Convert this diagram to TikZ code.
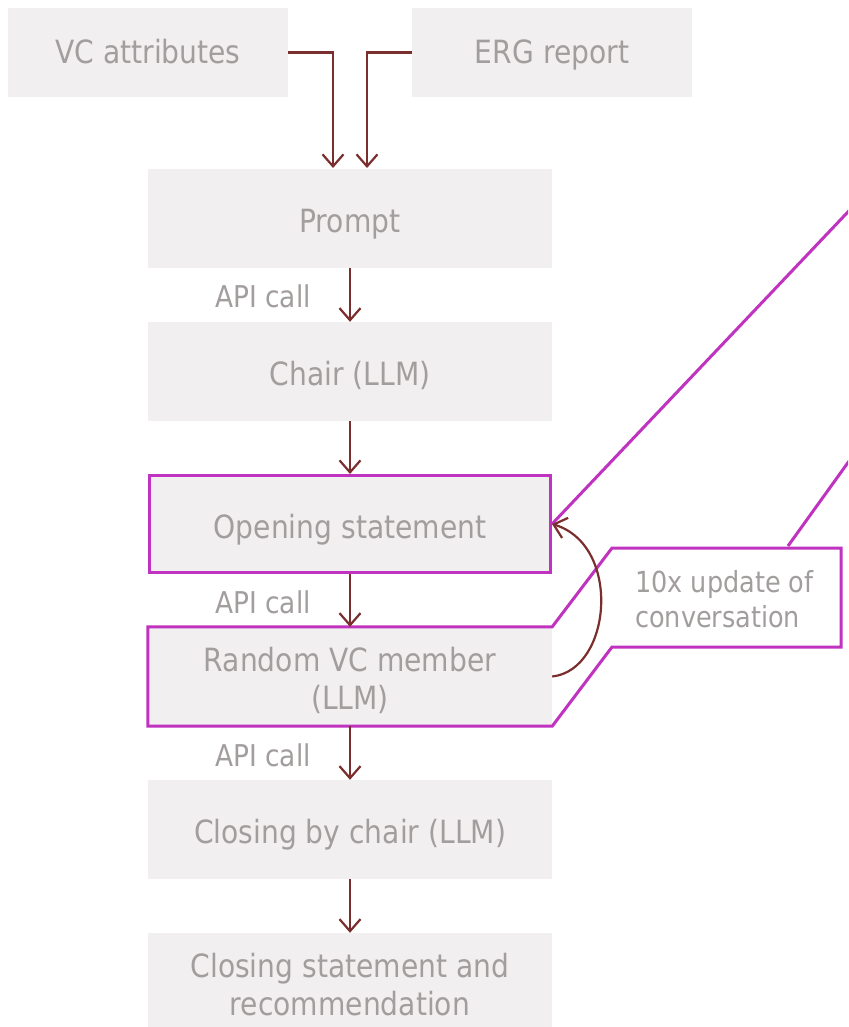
\documentclass[tikz,border=0pt]{standalone}
\usepackage{fontspec}
\setmainfont{DejaVu Sans}[FakeStretch=0.88]
\usetikzlibrary{arrows.meta}
\definecolor{boxfill}{HTML}{F1EFEF}
\definecolor{boxtext}{HTML}{A39E9E}
\definecolor{flow}{HTML}{7A2E2E}
\definecolor{loopline}{HTML}{C032C0}
\begin{document}
\begin{tikzpicture}[x=1pt,y=-1pt,
  panel/.style={fill=boxfill, text=boxtext, minimum width=404pt, minimum height=99pt,
    align=center, font=\fontsize{32}{38}\selectfont, inner sep=0pt},
  stage/.style={panel, text height=28pt, text depth=0pt},
  source/.style={panel, minimum width=280pt, minimum height=89pt, text height=23pt, text depth=0pt},
  boxtextstyle/.style={text=boxtext, align=center, font=\fontsize{32}{38}\selectfont, inner sep=0pt},
  flowarrow/.style={draw=flow, line width=2.2pt,
    -{Straight Barb[length=12pt,width=21pt]}},
  apilabel/.style={text=boxtext, font=\fontsize{30}{36}\selectfont, inner sep=0pt},
  loop/.style={draw=loopline, line width=3pt, line join=miter}]
\useasboundingbox[fill=white] (0,0) rectangle (848,1027);
\clip (0,0) rectangle (848,1027);

% inputs
\node[source] (vc)  at (148,52.5) {VC attributes};
\node[source] (erg) at (552,52.5) {ERG report};

% main pipeline
\node[stage] (prompt) at (350,218.5) {Prompt};
\node[stage] (chair)  at (350,371.5) {Chair (LLM)};
\node[stage, draw=loopline, line width=3pt, minimum width=401pt, minimum height=97pt] (open) at (350,524) {Opening statement};
\node[panel] (rand) at (350,676.5) {};
\node[boxtextstyle] (randtext) at (350,680) {Random VC member\\(LLM)};
\node[stage] (closechair) at (350,829.5) {Closing by chair (LLM)};
\node[panel, minimum height=94pt] (final) at (350,980) {};
\node[boxtextstyle] (finaltext) at (350,985) {Closing statement and\\recommendation};

% loop callout around the member step
\draw[loop] (rand.north west) -- (rand.north east) -- (612,548) -- (841,548)
  -- (841,647) -- (612,647) -- (rand.south east) -- (rand.south west) -- cycle;
\node[text=boxtext, font=\fontsize{29}{35}\selectfont, align=left, inner sep=0pt, anchor=west]
  (callout) at (635,599) {10x update of\\conversation};

% lines leading out to the right
\coordinate (farA) at (900,157);
\coordinate (calloutTop) at (788,546);
\coordinate (farB) at (880,418);
\draw[loop] (open.east) -- (farA);
\draw[loop] (calloutTop) -- (farB);

% connectors
\coordinate (inA) at (333,168);
\coordinate (inB) at (367,168);
\draw[flowarrow] (vc.east) -| (inA);
\draw[flowarrow] (erg.west) -| (inB);
\draw[flowarrow] (prompt.south) -- (chair.north);
\draw[flowarrow] (chair.south) -- (open.north);
\draw[flowarrow] (open.south) -- (rand.north);
\draw[flowarrow] (rand.south) -- (closechair.north);
\draw[flowarrow] (closechair.south) -- (final.north);
\draw[flowarrow] (rand.east) .. controls (612,670) and (622,545) .. (open.east);

% edge labels
\node[apilabel] (api1) at (263,296) {API call};
\node[apilabel] (api2) at (263,602) {API call};
\node[apilabel] (api3) at (263,755) {API call};
\end{tikzpicture}
\end{document}
